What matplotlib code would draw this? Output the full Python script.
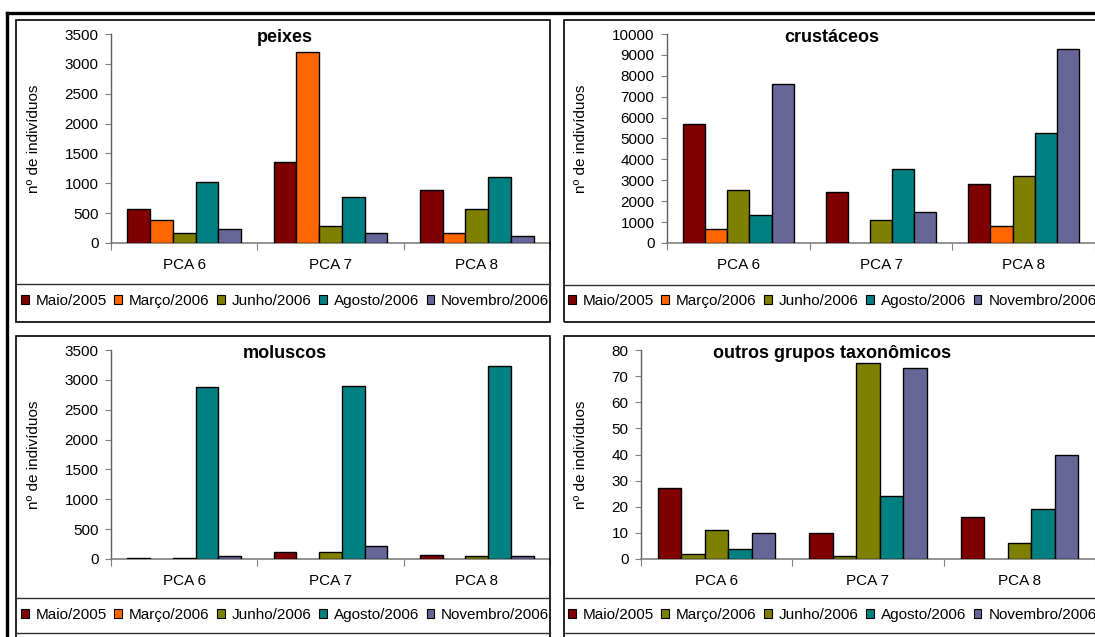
import numpy as np
import matplotlib.pyplot as plt
from matplotlib.patches import Patch, Rectangle
from matplotlib.lines import Line2D

plt.rcParams['font.family'] = ['Liberation Sans', 'DejaVu Sans']
plt.rcParams['font.size'] = 11

W, H = 1095, 637

stations = ['PCA 6', 'PCA 7', 'PCA 8']
campaigns = ['Maio/2005', 'Março/2006', 'Junho/2006', 'Agosto/2006', 'Novembro/2006']

# numbers of individuals per campaign (rows) and station (columns)
peixes = [
    [571, 1361, 885],
    [381, 3192, 162],
    [162, 286, 571],
    [1025, 762, 1098],
    [235, 162, 118],
]
crustaceos = [
    [5680, 2448, 2800],
    [672, 0, 816],
    [2528, 1088, 3216],
    [1360, 3552, 5264],
    [7584, 1504, 9296],
]
moluscos = [
    [20, 112, 73],
    [0, 0, 0],
    [20, 112, 45],
    [2873, 2895, 3226],
    [50, 213, 50],
]
outros = [
    [27, 10, 16],
    [2, 1, 0],
    [11, 75, 6],
    [4, 24, 19],
    [10, 73, 40],
]

colors = ['#800000', '#FF6600', '#808000', '#008080', '#666699']
# the last chart shows Março in olive
colors_outros = ['#800000', '#808000', '#808000', '#008080', '#666699']


def fx(px):
    return px / W


def fy(py):
    return 1 - py / H


fig = plt.figure(figsize=(W / 100, H / 100), dpi=100)
fig.patch.set_facecolor('white')


def panel_box(x0, x1, y0, y1, dividers):
    fig.patches.append(Rectangle((fx(x0), fy(y1)), fx(x1) - fx(x0), fy(y0) - fy(y1),
                                 transform=fig.transFigure, fill=False,
                                 edgecolor='black', lw=1.2))
    for yd in dividers:
        fig.lines.append(Line2D([fx(x0), fx(x1)], [fy(yd), fy(yd)],
                                transform=fig.transFigure, color='#303030', lw=1.0))


def draw_chart(left, right, top, bottom, xmax, data, ymax, ystep, title, title_x,
               ylabel_x, cols, legend_x, legend_y):
    ax = fig.add_axes([fx(left), fy(bottom), fx(right) - fx(left), fy(top) - fy(bottom)])
    ax.patch.set_alpha(0)
    width = 0.155
    offset = (1 - 5 * width) / 2
    idx = np.arange(len(stations))
    for j, vals in enumerate(data):
        vals = np.array(vals)
        lws = np.where(vals > 0, 1.0, 0.0)
        ax.bar(idx + offset + (j + 0.5) * width, vals, width, color=cols[j],
               edgecolor='black', linewidth=lws, zorder=3)
    ax.set_xlim(0, xmax)
    ax.set_ylim(0, ymax)
    ax.set_yticks(np.arange(0, ymax + 1, ystep))
    ax.set_xticks([0, 1, 2, 3])
    ax.set_xticklabels([])
    ax.set_xticks(idx + 0.5, minor=True)
    ax.set_xticklabels(stations, minor=True)
    ax.tick_params(axis='x', which='major', direction='out', length=5, color='#808080')
    ax.tick_params(axis='x', which='minor', length=0, pad=11, labelsize=11)
    ax.tick_params(axis='y', direction='out', length=4, color='#808080', pad=5, labelsize=11)
    for s in ['top', 'right']:
        ax.spines[s].set_visible(False)
    ax.spines['bottom'].set_color('#808080')
    ax.spines['left'].set_color('#606060')
    ax.spines['bottom'].set_linewidth(1.2)
    ax.spines['left'].set_linewidth(1.0)
    fig.text(fx(title_x), fy(37), title, ha='center', va='center',
             fontsize=13, fontweight='bold') if top < 100 else \
        fig.text(fx(title_x), fy(353), title, ha='center', va='center',
                 fontsize=13, fontweight='bold')
    fig.text(fx(ylabel_x), fy((top + bottom) / 2), 'nº de indivíduos', rotation=90,
             ha='center', va='center', fontsize=11)
    handles = [Patch(facecolor=c, edgecolor='black', linewidth=0.8) for c in cols]
    fig.legend(handles, campaigns, loc='center left',
               bbox_to_anchor=(fx(legend_x), fy(legend_y)), ncol=5, frameon=False,
               borderpad=0, borderaxespad=0, handlelength=0.5, handleheight=0.5,
               handletextpad=0.45, columnspacing=0.5, fontsize=11)
    return ax


# outer frame
fig.lines.append(Line2D([fx(7), fx(W + 5)], [fy(13), fy(13)], transform=fig.transFigure,
                        color='black', lw=2.4))
fig.lines.append(Line2D([fx(7), fx(7)], [fy(13), fy(H + 5)], transform=fig.transFigure,
                        color='black', lw=2.4))

panel_box(16, 550, 20, 322, [284])
panel_box(564, W + 10, 20, 322, [285])
panel_box(16, 550, 336, H + 10, [598, 633])
panel_box(564, W + 10, 336, H + 10, [598, 633])

draw_chart(111, 550, 34, 243, 3, peixes, 3500, 500, 'peixes', 285, 34,
           colors, 21, 301)
draw_chart(667, W, 34, 243, 428 / 143.5, crustaceos, 10000, 1000, 'crustáceos', 832, 581,
           colors, 568, 301)
draw_chart(111, 550, 350, 559, 3, moluscos, 3500, 500, 'moluscos', 285, 34,
           colors, 21, 615)
draw_chart(641, W, 350, 559, 454 / 152.5, outros, 80, 10, 'outros grupos taxonômicos', 832, 581,
           colors_outros, 568, 615)

plt.savefig('out.png', dpi=100)
